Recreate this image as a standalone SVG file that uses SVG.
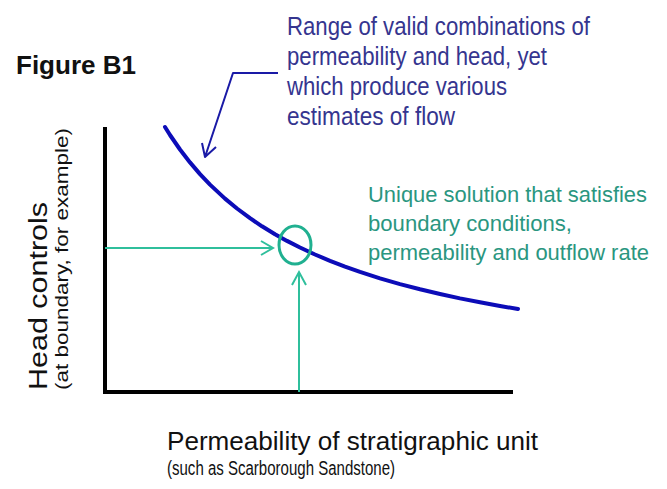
<svg xmlns="http://www.w3.org/2000/svg" width="667" height="489" viewBox="0 0 667 489">
<style>
.lbl{font-family:"Liberation Sans",Arial,sans-serif;fill:#111}
.blue{font-family:"Liberation Sans",Arial,sans-serif;font-size:25px;fill:#35358f}
.green{font-family:"Liberation Sans",Arial,sans-serif;font-size:22px;fill:#2a9680}
.axis{stroke:#000;stroke-width:4;fill:none}
.teal{stroke:#2fbf9c;stroke-width:2;fill:none}
</style>
<rect width="667" height="489" fill="#fff"/>
<g id="title"><text class="lbl" x="16" y="74" font-size="25" font-weight="bold" textLength="120" lengthAdjust="spacingAndGlyphs">Figure B1</text></g>
<g id="axes">
<path class="axis" d="M105,127 V392 H513"/>
</g>
<g id="y-label">
<text class="lbl" transform="translate(47,390) rotate(-90)" font-size="26" textLength="188" lengthAdjust="spacingAndGlyphs">Head controls</text>
<text class="lbl" transform="translate(68,390) rotate(-90)" font-size="19" textLength="262" lengthAdjust="spacingAndGlyphs">(at boundary, for example)</text>
</g>
<g id="x-label">
<text class="lbl" x="167" y="450" font-size="26" textLength="371" lengthAdjust="spacingAndGlyphs">Permeability of stratigraphic unit</text>
<text class="lbl" x="167" y="475" font-size="20" textLength="228" lengthAdjust="spacingAndGlyphs">(such as Scarborough Sandstone)</text>
</g>
<g id="curve">
<polyline fill="none" stroke="#0c0cb8" stroke-width="4" stroke-linejoin="round" stroke-linecap="round" points="165,127 170,135 180,149.5 190,162.4 200,174.1 210,184.6 225,198.6 237,208.5 250,218.2 262,226.3 275,234.2 287,240.9 300,247.5 315,254.5 330,260.8 345,266.6 360,271.9 380,278.3 400,284.1 420,289.3 440,294 460,298.4 480,302.3 500,306 518,309"/>
</g>
<g id="solution">
<ellipse cx="295" cy="245" rx="16" ry="19" fill="none" stroke="#20b090" stroke-width="3"/>
</g>
<g id="range-note">
<text class="blue" x="287" y="35" textLength="303" lengthAdjust="spacingAndGlyphs">Range of valid combinations of</text>
<text class="blue" x="287" y="65" textLength="260" lengthAdjust="spacingAndGlyphs">permeability and head, yet</text>
<text class="blue" x="287" y="95" textLength="220" lengthAdjust="spacingAndGlyphs">which produce various</text>
<text class="blue" x="287" y="125" textLength="168" lengthAdjust="spacingAndGlyphs">estimates of flow</text>
</g>
<g id="unique-note">
<text class="green" x="368" y="202" textLength="279" lengthAdjust="spacingAndGlyphs">Unique solution that satisfies</text>
<text class="green" x="368" y="231" textLength="204" lengthAdjust="spacingAndGlyphs">boundary conditions,</text>
<text class="green" x="368" y="260" textLength="281" lengthAdjust="spacingAndGlyphs">permeability and outflow rate</text>
</g>
<g id="connectors">
<path d="M278,73 H233 L205,157 M202,143 L205,157 L216,147" fill="none" stroke="#1a1aa6" stroke-width="2" stroke-linejoin="round"/>
<path class="teal" d="M105,248 H273 M261,241 L273,248 L261,255"/>
<path class="teal" d="M299,392 V272 M292,285 L299,272 L306,285"/>
</g>
</svg>
